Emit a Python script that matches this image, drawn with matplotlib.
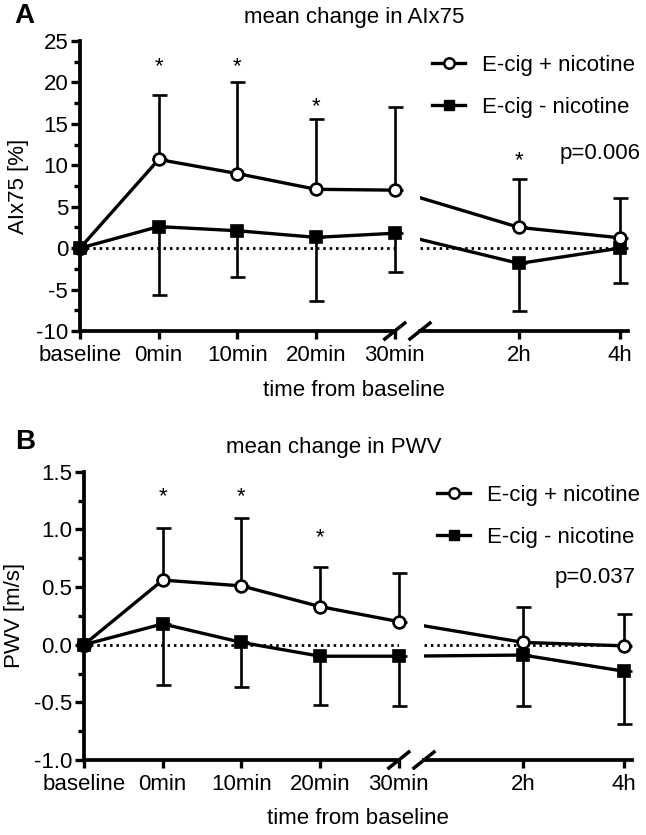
import matplotlib
matplotlib.use('Agg')
import matplotlib.pyplot as plt
from matplotlib.lines import Line2D
import numpy as np

plt.rcParams['font.family'] = ['Liberation Sans', 'DejaVu Sans']
plt.rcParams['axes.unicode_minus'] = False

# time points
time_labels = ['baseline', '0min', '10min', '20min', '30min', '2h', '4h']
series_names = ['E-cig + nicotine', 'E-cig - nicotine']

# panel A: AIx75 [%]
aix_pos_mean = [0, 10.7, 9.0, 7.1, 7.0, 2.5, 1.25]
aix_pos_sd = [0, 7.75, 11.1, 8.5, 10.0, 5.8, 4.75]
aix_neg_mean = [0, 2.6, 2.1, 1.3, 1.8, -1.85, 0]
aix_neg_sd = [0, 8.2, 5.6, 7.65, 4.65, 5.75, 4.25]
aix_stars_at = ['0min', '10min', '20min', '2h']
aix_stars_y = [22.7, 22.7, 17.9, 11.45]
aix_p = 'p=0.006'

# panel B: PWV [m/s]
pwv_pos_mean = [0, 0.56, 0.51, 0.33, 0.20, 0.02, -0.01]
pwv_pos_sd = [0, 0.45, 0.59, 0.34, 0.42, 0.31, 0.28]
pwv_neg_mean = [0, 0.18, 0.02, -0.10, -0.10, -0.09, -0.23]
pwv_neg_sd = [0, 0.53, 0.39, 0.42, 0.43, 0.44, 0.46]
pwv_stars_at = ['0min', '10min', '20min']
pwv_stars_y = [1.34, 1.34, 0.99]
pwv_p = 'p=0.037'

W, H = 646, 835
fig = plt.figure(figsize=(W / 100, H / 100), dpi=100)

# layout of the broken x axis (slot units)
xpos = [0, 1, 2, 3, 4, 5.58, 6.86]
unit = 78.7
left_lim = (0, 4.0)
right_lim = (4.32, 6.96)
FS = 16


def draw_panel(x0, top, bottom, ylim, major, minor, pos_mean, pos_sd, neg_mean, neg_sd,
               stars_at, stars_y, ylabel, ylabelpad, title, title_x, letter, leg_xy, p_text, p_xy,
               xlabel_x):
    h = (bottom - top) / H
    axL = fig.add_axes([x0 / W, 1 - bottom / H, (left_lim[1] - left_lim[0]) * unit / W, h])
    axR = fig.add_axes([(x0 + right_lim[0] * unit) / W, 1 - bottom / H,
                        (right_lim[1] - right_lim[0]) * unit / W, h])
    x = np.array(xpos)
    pm = np.array(pos_mean); ps = np.array(pos_sd)
    nm = np.array(neg_mean); ns = np.array(neg_sd)
    for ax, lim, idx in [(axL, left_lim, [0, 1, 2, 3, 4]), (axR, right_lim, [5, 6])]:
        ax.set_xlim(*lim)
        ax.set_ylim(*ylim)
        # zero reference
        ax.axhline(0, color='black', lw=2.0, ls=(0, (0.9, 1.4)), zorder=1)
        ax.plot(x, pm, '-', color='black', lw=2.4, zorder=3)
        ax.plot(x, nm, '-', color='black', lw=2.4, zorder=3)
        ii = np.array(idx)
        ii = ii[ii > 0]
        ax.errorbar(x[ii], pm[ii], yerr=[np.zeros(len(ii)), ps[ii]], fmt='none', ecolor='black',
                    elinewidth=1.9, capsize=5.4, capthick=1.9, zorder=2, clip_on=False)
        ax.errorbar(x[ii], nm[ii], yerr=[ns[ii], np.zeros(len(ii))], fmt='none', ecolor='black',
                    elinewidth=1.9, capsize=5.4, capthick=1.9, zorder=2, clip_on=False)
        ax.plot(x[idx], nm[idx], 's', color='black', ms=8, mec='black', mew=1.2,
                zorder=4, clip_on=False, linestyle='none')
        ax.plot(x[ii], pm[ii], 'o', mfc='white', mec='black', ms=8.5, mew=1.9,
                zorder=5, clip_on=False, linestyle='none')
        ax.set_xticks(x[idx])
        ax.set_xticklabels([time_labels[i] for i in idx], fontsize=FS)
        for s in ['top', 'right']:
            ax.spines[s].set_visible(False)
        ax.spines['bottom'].set_linewidth(2.7)
        ax.spines['left'].set_linewidth(2.7)
        ax.tick_params(axis='x', direction='out', length=6, width=2.4, pad=4)
        ax.tick_params(axis='y', which='major', direction='out', length=6.5, width=2.4,
                       labelsize=FS, pad=2)
        ax.tick_params(axis='y', which='minor', direction='out', length=4, width=2.4)
        ax.patch.set_visible(False)
    # both series start at baseline: drawn as one filled blob
    axL.plot(x[0], pm[0], 'o', color='black', ms=10, zorder=6, clip_on=False)

    axL.set_yticks(np.arange(ylim[0], ylim[1] + 1e-9, major))
    axL.set_yticks(np.arange(ylim[0], ylim[1] + 1e-9, minor), minor=True)
    if major < 1:
        axL.set_yticklabels(['%.1f' % v for v in np.arange(ylim[0], ylim[1] + 1e-9, major)])
    axL.set_ylabel(ylabel, fontsize=FS, labelpad=ylabelpad)
    axR.spines['left'].set_visible(False)
    axR.tick_params(axis='y', which='both', left=False, labelleft=False)

    # asterisks
    for lab, yv in zip(stars_at, stars_y):
        xi = xpos[time_labels.index(lab)]
        ax = axL if xi <= left_lim[1] else axR
        ax.annotate('*', (xi, yv), xytext=(0, -9), textcoords='offset points',
                    ha='center', va='baseline', fontsize=FS)

    # break marks
    for cx in [x0 + left_lim[1] * unit, x0 + right_lim[0] * unit]:
        fig.add_artist(Line2D([(cx - 10) / W, (cx + 10) / W],
                              [1 - (bottom + 8) / H, 1 - (bottom - 8) / H],
                              color='black', lw=2.5, transform=fig.transFigure))

    # legend
    handles = [Line2D([], [], color='black', lw=2.4, marker='o', mfc='white', mec='black',
                      ms=7.5, mew=1.8),
               Line2D([], [], color='black', lw=2.4, marker='s', ms=7, mec='black')]
    axR.legend(handles, series_names, loc='upper left',
               bbox_to_anchor=(leg_xy[0] / W, 1 - leg_xy[1] / H),
               bbox_transform=fig.transFigure, frameon=False, fontsize=FS, borderpad=0,
               borderaxespad=0, handlelength=1.5, handletextpad=0.75, labelspacing=0.95)
    fig.text(p_xy[0] / W, 1 - p_xy[1] / H, p_text, fontsize=FS, ha='left', va='center')
    fig.text(title_x / W, 1 - (top - 24) / H, title, fontsize=FS, ha='center', va='center')
    fig.text(xlabel_x / W, 1 - (bottom + 59) / H, 'time from baseline', fontsize=FS,
             ha='center', va='center')
    fig.text(letter[1] / W, 1 - letter[2] / H, letter[0], fontsize=20, fontweight='bold',
             ha='center', va='center')


draw_panel(80, 41, 331, (-10, 25), 5, 2.5, aix_pos_mean, aix_pos_sd, aix_neg_mean, aix_neg_sd,
           aix_stars_at, aix_stars_y, 'AIx75 [%]', 5, 'mean change in AIx75', 354,
           ('A', 24, 16), (432, 55), aix_p, (560, 153), 354)
draw_panel(84, 471.7, 760, (-1, 1.5), 0.5, 0.25, pwv_pos_mean, pwv_pos_sd, pwv_neg_mean, pwv_neg_sd,
           pwv_stars_at, pwv_stars_y, 'PWV [m/s]', 6, 'mean change in PWV', 334,
           ('B', 25, 442), (437, 485), pwv_p, (555, 577), 358)

fig.savefig('out.png', dpi=100)
